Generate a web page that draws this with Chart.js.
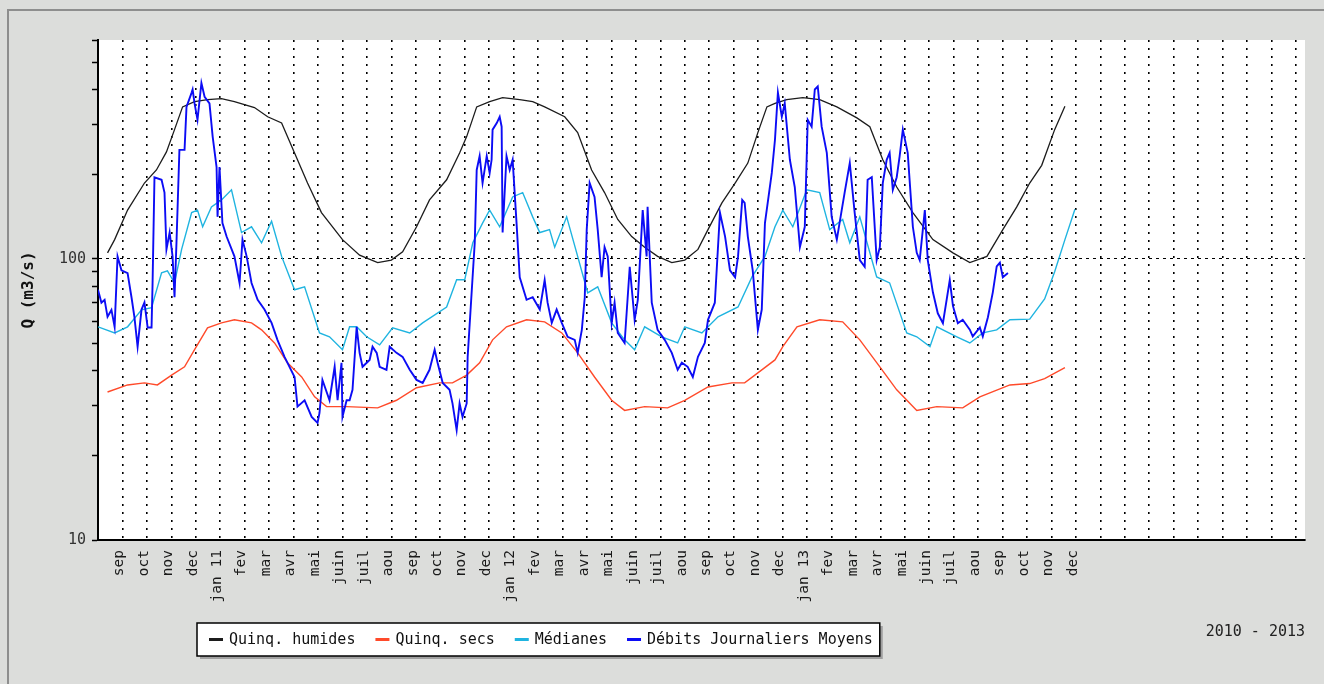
<!DOCTYPE html>
<html>
<head>
<meta charset="utf-8">
<title>Débits Journaliers Moyens 2010 - 2013</title>
<script src="https://cdn.jsdelivr.net/npm/chart.js@4.4.1/dist/chart.umd.min.js"></script>
<style>
  html, body { margin: 0; padding: 0; background: #dcdddb; }
  #graph { display: block; }
</style>
</head>
<body>
<canvas id="graph" width="1324" height="684"></canvas>
<script>
// x = months counted from 1 aug 2010, y = Q in m3/s
const monthLabels = ['sep','oct','nov','dec','jan 11','fev','mar','avr','mai','juin','juil','aou',
  'sep','oct','nov','dec','jan 12','fev','mar','avr','mai','juin','juil','aou',
  'sep','oct','nov','dec','jan 13','fev','mar','avr','mai','juin','juil','aou',
  'sep','oct','nov','dec','','','','','','','','',''];
const monthTicks = monthLabels.map((l, i) => i + 1);

const yTickValues = [10,20,30,40,50,60,70,80,90,100,200,300,400,500,600];
const yTickLabels = ['10','','','','','','','','','100','','','','',''];

const humidesT = [0.39,0.68,1.21,1.9,2.39,2.8,3.13,3.46,3.95,4.48,
  5.05,5.58,6.4,6.94,7.51,8.04,8.57,9.14,10.0,10.7,
  11.44,12.0,12.46,13.03,13.56,14.26,14.79,15.08,15.49,16.02,
  16.55,17.25,17.78,18.27,19.09,19.62,20.19,20.72,21.26,21.83,
  22.36,22.89,23.47,24.0,24.54,24.95,25.52,26.06,26.58,26.99,
  27.36,27.69,28.17,28.83,29.52,30.22,31.04,31.57,32.1,32.67,
  33.33,34.15,34.97,35.66,36.36,37.01,37.58,38.11,38.6,39.13,39.55];
const humidesQ = [105,117,149,186,207,240,288,347,362,368,
  371,362,345,320,304,238,186,146,117,103,
  97,99,106,130,162,191,238,272,347,362,
  374,368,362,347,320,281,207,172,138,120,
  110,102,97,99,108,127,158,186,219,281,
  347,357,368,374,368,347,317,295,225,180,
  146,117,105,97,102,127,153,186,215,288,349];

const secsT = [0.39,1.21,1.9,2.43,3.01,3.54,3.95,4.48,5.05,5.58,
  6.28,6.69,7.22,7.75,8.33,8.86,9.35,10.17,11.44,12.21,
  13.03,13.97,14.5,15.08,15.61,16.14,16.71,17.53,18.27,18.97,
  19.62,20.31,21.01,21.54,22.36,23.3,24.0,24.95,25.93,26.45,
  26.99,27.69,28.01,28.59,29.52,30.46,31.16,31.98,32.67,33.49,
  34.31,35.37,36.07,37.3,38.11,38.72,39.55];
const secsQ = [33.6,35.6,36.2,35.6,38.6,41.3,47.5,56.8,59.2,60.7,
  59.2,55.9,50.2,42.7,38.0,32.3,29.8,29.8,29.5,31.4,
  34.8,36.2,36.2,38.6,42.7,51.5,57.3,60.7,59.7,54.5,
  46.3,38.0,31.4,28.9,29.8,29.5,31.4,35.0,36.2,36.2,
  39.3,43.7,48.7,57.3,60.7,59.7,51.5,41.3,34.2,28.9,
  29.8,29.5,32.3,35.6,36.0,37.5,41];

const medT = [0.0,0.68,1.21,1.78,2.19,2.6,2.84,3.13,3.42,3.83,
  4.07,4.28,4.64,5.05,5.46,5.87,6.28,6.69,7.1,7.51,
  8.04,8.45,9.06,9.47,10.0,10.29,10.58,10.99,11.52,12.05,
  12.75,13.28,14.26,14.67,15.0,15.33,15.73,16.02,16.43,16.96,
  17.37,17.78,18.07,18.47,18.68,19.17,19.62,20.03,20.44,21.01,
  21.54,21.95,22.36,23.06,23.71,24.0,24.7,25.36,26.18,26.75,
  27.28,27.69,28.01,28.42,28.99,29.52,29.93,30.46,30.75,31.16,
  31.85,32.38,33.08,33.49,34.03,34.31,35.13,35.66,36.19,36.76,
  37.3,38.11,38.72,39.13,39.55,39.96];
const medQ = [57.3,54.5,57.3,65.8,67.0,89.2,90.6,82.1,108,146,
  149,130,153,162,176,124,130,114,136,102,
  77.6,79.5,54.5,52.8,47.5,57.3,57.3,52.8,49.4,56.8,
  54.5,59.2,67.4,84.2,84.2,114,134,149,130,166,
  172,141,124,127,110,141,102,75.7,79.5,59.2,
  51.5,47.5,57.3,52.8,50.2,57.3,54.5,62.2,67.4,86.2,
  102,130,149,130,176,172,127,138,114,141,
  86.2,82.1,54.5,52.8,48.7,57.3,52.8,50.2,54.5,55.9,
  60.7,61,72,90,117,150];

const debitsT = [0.0,0.14,0.27,0.39,0.55,0.68,0.8,0.96,1.21,1.37,
  1.49,1.62,1.78,1.9,2.03,2.19,2.23,2.31,2.6,2.72,
  2.8,2.93,3.05,3.13,3.21,3.33,3.54,3.62,3.83,3.87,
  3.95,4.07,4.23,4.36,4.56,4.69,4.85,4.89,4.97,5.09,
  5.26,5.58,5.79,5.91,6.08,6.28,6.53,6.81,7.1,7.34,
  7.63,8.04,8.16,8.45,8.74,8.98,9.06,9.18,9.47,9.68,
  9.8,9.96,10.0,10.17,10.29,10.41,10.58,10.7,10.82,11.11,
  11.23,11.4,11.52,11.8,11.93,12.21,12.46,12.75,13.03,13.28,
  13.56,13.77,13.89,14.1,14.38,14.5,14.67,14.79,14.91,15.08,
  15.12,15.29,15.41,15.49,15.61,15.73,15.9,16.02,16.1,16.14,
  16.31,16.43,16.51,16.55,16.71,16.84,16.96,17.12,17.25,17.53,
  17.78,18.07,18.27,18.39,18.56,18.76,18.97,19.21,19.5,19.62,
  19.79,19.91,19.99,20.11,20.31,20.44,20.6,20.72,20.85,21.01,
  21.13,21.26,21.54,21.75,21.95,22.08,22.28,22.44,22.48,22.65,
  22.89,23.18,23.47,23.71,23.88,24.12,24.33,24.54,24.82,24.95,
  25.23,25.44,25.65,25.85,26.06,26.18,26.35,26.45,26.58,26.78,
  26.99,27.15,27.28,27.56,27.69,27.81,27.97,28.09,28.3,28.5,
  28.71,28.91,29.03,29.19,29.32,29.44,29.6,29.81,30.01,30.22,
  30.42,30.54,30.75,30.95,31.16,31.36,31.48,31.65,31.85,31.98,
  32.1,32.26,32.38,32.51,32.67,32.79,32.92,33.12,33.33,33.49,
  33.61,33.82,33.94,34.15,34.35,34.56,34.84,34.97,35.17,35.37,
  35.66,35.78,36.07,36.19,36.4,36.6,36.76,36.89,37.01,37.22];
const debitsQ = [77.6,69.8,71.5,62.2,65.8,57.3,102,91,89,73,
  62,48.7,66,70,57,57,80,195,191,172,
  108,124,102,73,114,244,244,347,390,400,
  357,312,422,377,357,272,212,141,212,134,
  120,102,82,117,102,82,71.5,66,59.2,51.5,
  44.8,38,29.8,31.4,27.4,26.1,28.3,37.1,31.4,41.3,
  31.4,42.7,27.4,31.4,31.4,34.2,57.3,46.3,41.3,43.7,
  48.7,46.3,41.3,40.3,48.7,46.3,44.8,40.3,37.1,36.2,
  40.3,47.5,42.7,36.2,34.2,30.6,24.6,30.6,27.4,30.6,
  44.8,77.6,114,207,232,186,232,202,225,288,
  304,320,295,124,232,207,225,134,86,71.5,
  73,66,84,69.8,59.2,66,59.2,52.8,51.5,46.3,
  55.9,73,127,186,166,127,86,110,102,59.2,
  69.8,54.5,50.2,93.7,60.7,71.5,149,102,153,69.8,
  55.9,51.5,46.3,40.3,42.7,41.3,38.0,44.8,50.2,60.7,
  69.8,146,120,91,86,102,162,158,120,91,
  55.9,66,134,202,265,390,320,357,225,180,
  110,130,312,295,400,410,295,238,141,117,
  149,172,219,146,99,93.7,191,195,99,110,
  186,225,238,176,195,232,288,238,130,105,
  99,149,99,76,64,59,84,68,59,60.7,
  56,53,57,53,62,76,94,97,86,89];

const mono = "'DejaVu Sans Mono', 'Liberation Mono', monospace";
const pts = (t, q) => t.map((x, i) => ({x: x, y: q[i]}));

// grey page, frame lines and white plot area
const frame = {
  id: 'frame',
  beforeDraw(chart) {
    const ctx = chart.ctx, a = chart.chartArea;
    ctx.save();
    ctx.fillStyle = '#dcdddb';
    ctx.fillRect(0, 0, chart.width, chart.height);
    ctx.fillStyle = '#8e8e8e';
    ctx.fillRect(7, 9, chart.width - 7, 2);
    ctx.fillRect(7, 9, 2, chart.height - 9);
    ctx.fillStyle = '#ffffff';
    ctx.fillRect(a.left, a.top, a.right - a.left, a.bottom - a.top);
    ctx.restore();
  }
};

// boxed legend under the plot + period text
const legendBox = {
  id: 'legendBox',
  afterDraw(chart) {
    const ctx = chart.ctx;
    ctx.save();
    ctx.font = '15px ' + mono;
    let x = 209;
    const y = 640;
    const items = chart.data.datasets.map(ds => {
      const w = ctx.measureText(ds.label).width;
      const it = {ds: ds, x: x};
      x += 20 + w + 20;
      return it;
    });
    const left = 197, top = 623, right = x - 20 + 7, bottom = 656;
    ctx.fillStyle = '#a0a0a0';
    ctx.fillRect(left + 3, top + 3, right - left, bottom - top);
    ctx.fillStyle = '#ffffff';
    ctx.fillRect(left, top, right - left, bottom - top);
    ctx.strokeStyle = '#000';
    ctx.lineWidth = 1.5;
    ctx.strokeRect(left, top, right - left, bottom - top);
    ctx.textBaseline = 'middle';
    items.forEach(it => {
      ctx.fillStyle = it.ds.borderColor;
      ctx.fillRect(it.x, y - 2, 14, 3);
      ctx.fillStyle = '#111';
      ctx.fillText(it.ds.label, it.x + 20, y);
    });
    ctx.textAlign = 'right';
    ctx.fillStyle = '#222';
    ctx.fillText('2010 - 2013', 1305, 632);
    ctx.restore();
  }
};

new Chart(document.getElementById('graph'), {
  type: 'line',
  data: {
    datasets: [
      {label: 'Quinq. humides', data: pts(humidesT, humidesQ), borderColor: '#1c1c1c', borderWidth: 1.3, order: 1},
      {label: 'Quinq. secs', data: pts(secsT, secsQ), borderColor: '#ff4a2a', borderWidth: 1.4, order: 3},
      {label: 'Médianes', data: pts(medT, medQ), borderColor: '#1fb4e0', borderWidth: 1.4, order: 2},
      {label: 'Débits Journaliers Moyens', data: pts(debitsT, debitsQ), borderColor: '#0c0cf5', borderWidth: 1.9, order: 0}
    ]
  },
  options: {
    responsive: false,
    animation: false,
    devicePixelRatio: 1,
    layout: {padding: {top: 40, right: 19, left: 0, bottom: 0}},
    elements: {point: {radius: 0}, line: {tension: 0}},
    plugins: {legend: {display: false}, tooltip: {enabled: false}},
    scales: {
      x: {
        type: 'linear',
        min: 0,
        max: 49.37,
        afterBuildTicks: s => { s.ticks = monthTicks.map(v => ({value: v})); },
        afterFit: s => { s.height = 144; },
        ticks: {
          autoSkip: false, minRotation: 90, maxRotation: 90, padding: 10, labelOffset: -3,
          color: '#1a1a1a', font: {family: mono, size: 14.5},
          callback: (v, i) => monthLabels[i]
        },
        grid: {color: '#000', lineWidth: 1.6, drawTicks: false},
        border: {color: '#000', width: 2, dash: [2, 6]}
      },
      y: {
        type: 'logarithmic',
        min: 10,
        max: 600,
        afterBuildTicks: s => { s.ticks = yTickValues.map(v => ({value: v})); },
        afterFit: s => { s.width = 98; },
        ticks: {
          autoSkip: false, padding: 6, color: '#333',
          font: {family: mono, size: 15},
          callback: (v, i) => yTickLabels[i]
        },
        grid: {
          color: c => (c.tick && c.tick.value === 100) ? '#000' : 'rgba(0,0,0,0)',
          tickColor: '#000', tickLength: 6, tickWidth: 1.5
        },
        border: {color: '#000', width: 2, dash: [3, 4]},
        title: {
          display: true, text: 'Q (m3/s)', color: '#111',
          font: {family: mono, size: 16, weight: 'bold'},
          padding: {top: 19, bottom: 0}
        }
      }
    }
  },
  plugins: [frame, legendBox]
});
</script>
</body>
</html>
